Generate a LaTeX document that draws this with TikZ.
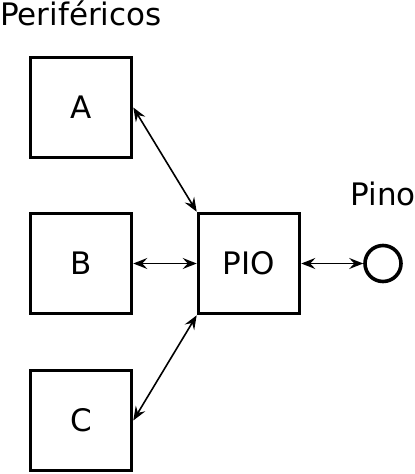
\documentclass[tikz,border=0pt]{standalone}
\usepackage{fontspec}
\setmainfont{DejaVu Sans}
\usetikzlibrary{arrows.meta}
\begin{document}
\begin{tikzpicture}[x=1pt,y=-1pt,
  box/.style={draw,line width=3.6pt,minimum width=101pt,minimum height=100pt,inner sep=0pt,font=\fontsize{31}{36}\selectfont},
  lbl/.style={font=\fontsize{31}{36}\selectfont,inner sep=0pt},
  link/.style={line width=1.6pt,{Stealth[length=14pt,width=11pt,inset=5pt]}-{Stealth[length=14pt,width=11pt,inset=5pt]}}]
\useasboundingbox (0,0) rectangle (415,474);
\node[box] (A) at (81,107.5) {A};
\node[box] (B) at (81,263.5) {B};
\node[box] (C) at (81,420.5) {C};
\node[box] (P) at (249,263.5) {PIO};
\node[draw,circle,line width=3.6pt,minimum size=36pt,inner sep=0pt] (pin) at (383,263.5) {};
\node[lbl,anchor=base west] (per) at (0,25) {Periféricos};
\node[lbl,anchor=base] (pino) at (383,205) {Pino};
\draw[link] (A.east) -- (P.north west);
\draw[link] (B.east) -- (P.west);
\draw[link] (C.east) -- (P.south west);
\draw[link] (P.east) -- (pin.west);
\end{tikzpicture}
\end{document}
